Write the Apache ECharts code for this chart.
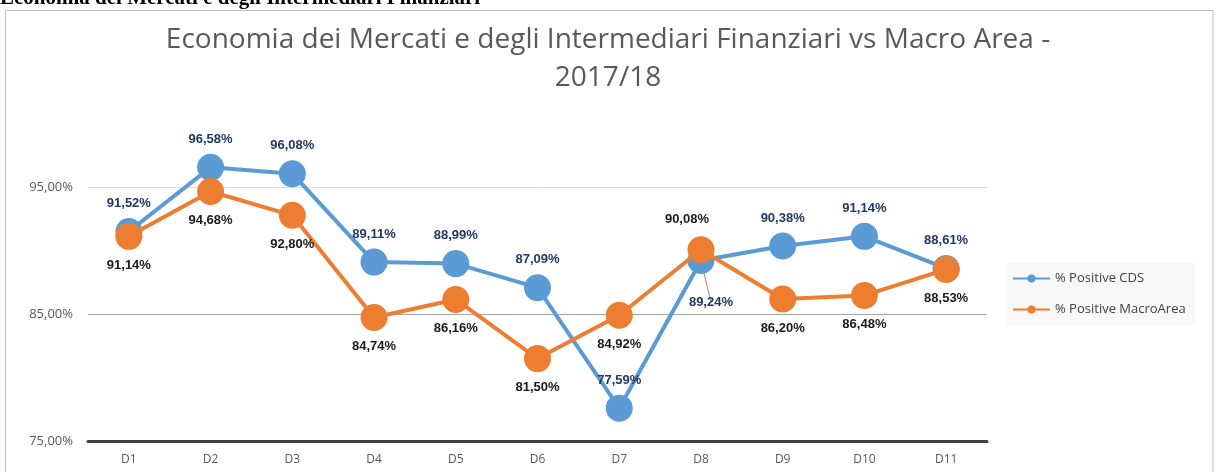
<!DOCTYPE html>
<html>
<head>
<meta charset="utf-8">
<script src="https://cdn.jsdelivr.net/npm/echarts@6/dist/echarts.min.js"></script>
<style>
html,body{margin:0;padding:0;background:#fff;}
#chart{width:1216px;height:472px;}
</style>
</head>
<body>
<div id="chart"></div>
<script>
const categories = ['D1','D2','D3','D4','D5','D6','D7','D8','D9','D10','D11'];
const positiveCDS = [91.52, 96.58, 96.08, 89.11, 88.99, 87.09, 77.59, 89.24, 90.38, 91.14, 88.61];
const positiveMacroArea = [91.14, 94.68, 92.80, 84.74, 86.16, 81.50, 84.92, 90.08, 86.20, 86.48, 88.53];
const seriesNames = ['% Positive CDS', '% Positive MacroArea'];
const chartTitle = 'Economia dei Mercati e degli Intermediari Finanziari vs Macro Area -\n2017/18';
const pageHeader = 'Economia dei Mercati e degli Intermediari Finanziari';

const fmt = v => v.toFixed(2).replace('.', ',') + '%';

// label placement overrides (layout only)
const cdsLabelOverride = {7: {position: 'bottom', offset: [10, 14]}};
const macroLabelOverride = {7: {position: 'top', offset: [-14, -1]}};

function buildData(values, overrides) {
  return values.map((v, i) => {
    const o = overrides[i];
    if (!o) return v;
    return {
      value: v,
      label: {position: o.position, offset: o.offset},
      labelLine: {show: true, lineStyle: {color: '#8c8c8c', width: 1}}
    };
  });
}

const chart = echarts.init(document.getElementById('chart'));
chart.setOption({
  animation: false,
  backgroundColor: '#fff',
  title: {
    text: chartTitle,
    left: 'center',
    top: 16,
    textStyle: {
      fontFamily: 'Open Sans',
      fontWeight: 'normal',
      fontSize: 28,
      lineHeight: 38,
      color: '#595959'
    }
  },
  graphic: [
    {
      type: 'rect',
      shape: {x: 5.5, y: 10.5, width: 1207.5, height: 480},
      style: {fill: 'none', stroke: '#bfbfbf', lineWidth: 1},
      z: -10
    },
    {
      type: 'text',
      x: 0,
      y: 9,
      style: {
        text: pageHeader,
        font: 'bold 21px "Liberation Serif"',
        fill: '#000',
        verticalAlign: 'bottom'
      }
    }
  ],
  legend: {
    orient: 'vertical',
    left: 1007,
    top: 263,
    itemWidth: 37,
    itemHeight: 10,
    itemGap: 18,
    padding: [9, 10, 9, 5],
    backgroundColor: '#f8f8f8',
    textStyle: {fontFamily: 'Open Sans', fontSize: 13, color: '#404040'},
    data: seriesNames
  },
  grid: {left: 88, right: 229, top: 124, bottom: 31},
  xAxis: {
    type: 'category',
    data: categories,
    boundaryGap: true,
    axisLine: {lineStyle: {color: '#404040', width: 3}},
    axisTick: {show: false},
    axisLabel: {fontFamily: 'Open Sans', fontSize: 12, color: '#595959', margin: 13}
  },
  yAxis: {
    type: 'value',
    min: 75,
    max: 100,
    interval: 10,
    axisLine: {show: false},
    axisTick: {show: false},
    axisLabel: {
      fontFamily: 'Open Sans', fontSize: 13, color: '#595959', margin: 15,
      showMaxLabel: false,
      formatter: v => fmt(v)
    },
    splitLine: {
      show: true,
      showMinLine: false,
      showMaxLine: false,
      lineStyle: {color: ['#a6a6a6', '#dcdcdc'], width: 1}
    }
  },
  series: [
    {
      name: seriesNames[0],
      type: 'line',
      data: buildData(positiveCDS, cdsLabelOverride),
      symbol: 'circle',
      symbolSize: 27,
      color: '#5B9BD5',
      lineStyle: {width: 4, color: '#5B9BD5'},
      itemStyle: {color: '#5B9BD5'},
      label: {
        show: true,
        position: 'top',
        distance: 8,
        fontFamily: 'Liberation Sans',
        fontWeight: 'bold',
        fontSize: 13,
        color: '#1F3864',
        formatter: p => fmt(p.value)
      },
      z: 2
    },
    {
      name: seriesNames[1],
      type: 'line',
      data: buildData(positiveMacroArea, macroLabelOverride),
      symbol: 'circle',
      symbolSize: 27,
      color: '#ED7D31',
      lineStyle: {width: 4, color: '#ED7D31'},
      itemStyle: {color: '#ED7D31'},
      label: {
        show: true,
        position: 'bottom',
        distance: 9,
        fontFamily: 'Liberation Sans',
        fontWeight: 'bold',
        fontSize: 13,
        color: '#1a1a1a',
        formatter: p => fmt(p.value)
      },
      z: 3
    }
  ]
});
</script>
</body>
</html>
